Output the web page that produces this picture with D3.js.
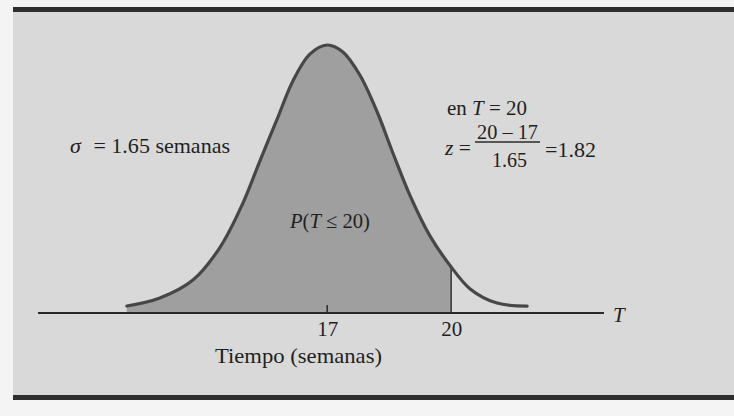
<!DOCTYPE html>
<html>
<head>
<meta charset="utf-8">
<script src="https://cdn.jsdelivr.net/npm/d3@7"></script>
<style>
	body { margin: 0; background: #f4f4f4; }
	svg { display: block; }
	text { font-family: "Liberation Serif", "DejaVu Serif", serif; fill: #1f1f1f; }
</style>
</head>
<body>
<div id="chart"></div>
<script>
// Curve: T (weeks) and relative height of the density
const curveT = [12.15, 12.95, 13.75, 14.41, 14.96, 15.37, 15.79, 16.17, 16.58, 17.0,
	17.38, 17.79, 18.21, 18.59, 19.0, 19.49, 20.0, 20.46, 21.11, 21.84];
const curveHeight = [0.026, 0.056, 0.123, 0.246, 0.41, 0.567, 0.724, 0.866, 0.966, 1.0,
	0.974, 0.888, 0.75, 0.597, 0.44, 0.287, 0.172, 0.09, 0.037, 0.026];

const axisRange = [10, 23.7];
const tickValues = [17, 20];
const mean = 17;
const cutoff = 20;
const sigmaText = "1.65";
const zText = "1.82";

const width = 734;
const height = 416;

const svg = d3.select("#chart")
	.append("svg")
	.attr("width", width)
	.attr("height", height);

// page / panel
svg.append("rect")
	.attr("x", 13).attr("y", 7)
	.attr("width", width - 13).attr("height", 392)
	.attr("fill", "#d9d9d9");
svg.append("rect")
	.attr("x", 13).attr("y", 7)
	.attr("width", width - 13).attr("height", 5)
	.attr("fill", "#2e2e2e");
svg.append("rect")
	.attr("x", 13).attr("y", 395)
	.attr("width", width - 13).attr("height", 5)
	.attr("fill", "#2e2e2e");

const xScale = d3.scaleLinear()
	.domain(axisRange)
	.range([38, 604]);

const yScale = d3.scaleLinear()
	.domain([0, 1])
	.range([313, 45]);

const points = curveT.map((t, i) => ({ t: t, h: curveHeight[i] }));

// shaded area P(T <= 20)
const area = d3.area()
	.x((d) => xScale(d.t))
	.y0(yScale(0))
	.y1((d) => yScale(d.h))
	.curve(d3.curveCatmullRom);

svg.append("path")
	.attr("d", area(points.filter((d) => d.t <= cutoff)))
	.attr("fill", "#9f9f9f");

// cut-off line at T = 20
const cutPoint = points.find((d) => d.t === cutoff);
svg.append("line")
	.attr("x1", xScale(cutoff)).attr("x2", xScale(cutoff))
	.attr("y1", yScale(0)).attr("y2", yScale(cutPoint.h))
	.attr("stroke", "#333")
	.attr("stroke-width", 1.5);

// the curve itself
const line = d3.line()
	.x((d) => xScale(d.t))
	.y((d) => yScale(d.h))
	.curve(d3.curveCatmullRom);

svg.append("path")
	.attr("d", line(points))
	.attr("fill", "none")
	.attr("stroke", "#474747")
	.attr("stroke-width", 3.2)
	.attr("stroke-linecap", "round");

// horizontal axis
svg.append("line")
	.attr("x1", xScale(axisRange[0])).attr("x2", xScale(axisRange[1]))
	.attr("y1", yScale(0)).attr("y2", yScale(0))
	.attr("stroke", "#2a2a2a")
	.attr("stroke-width", 2);

// little tick at the mean
svg.append("line")
	.attr("x1", xScale(mean)).attr("x2", xScale(mean))
	.attr("y1", yScale(0)).attr("y2", yScale(0) - 8)
	.attr("stroke", "#2a2a2a")
	.attr("stroke-width", 1.5);

const axis = svg.append("g")
	.attr("transform", `translate(0, ${yScale(0)})`)
	.call(d3.axisBottom(xScale).tickValues(tickValues).tickSize(0).tickPadding(10));
axis.select(".domain").remove();
axis.selectAll("text")
	.attr("font-family", "Liberation Serif")
	.attr("font-size", 21)
	.attr("fill", "#1f1f1f")
	.attr("dy", "0.64em");

// helper for text with fitted width
function label(x, y, parts, w, anchor = "start", size = 21) {
	const t = svg.append("text")
		.attr("x", x).attr("y", y)
		.attr("font-size", size)
		.attr("text-anchor", anchor);
	parts.forEach((p) => {
		const s = t.append("tspan").text(p.text);
		if (p.italic) s.attr("font-style", "italic");
		if (p.dx) s.attr("dx", p.dx);
	});
	if (w) t.attr("textLength", w).attr("lengthAdjust", "spacingAndGlyphs");
	return t;
}

label(613, 322, [{ text: "T", italic: true }], null);
label(215, 363, [{ text: "Tiempo (semanas)" }], 167);

label(70, 153, [{ text: "σ", italic: true }, { text: "= " + sigmaText + " semanas", dx: 12 }], 160);

label(447, 115, [{ text: "en " }, { text: "T", italic: true }, { text: " = " + cutoff }], 80, "start", 20);

label(290, 228, [{ text: "P", italic: true }, { text: "(" }, { text: "T", italic: true }, { text: " ≤ " + cutoff + ")" }], 80);

// z = (20 - 17) / 1.65 = 1.82
label(445, 155, [{ text: "z", italic: true }, { text: " =" }], 26);
label(507.5, 139, [{ text: cutoff + " – " + mean }], 61, "middle", 20);
svg.append("line")
	.attr("x1", 475).attr("x2", 540)
	.attr("y1", 142).attr("y2", 142)
	.attr("stroke", "#2a2a2a")
	.attr("stroke-width", 1.3);
label(509.5, 167, [{ text: sigmaText }], 35, "middle", 20);
label(545, 157, [{ text: "=" + zText }], 51);
</script>
</body>
</html>
